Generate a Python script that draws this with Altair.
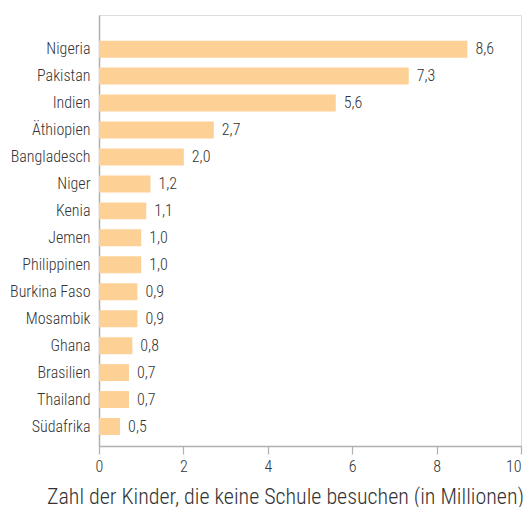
import altair as alt
import pandas as pd

countries = ["Nigeria", "Pakistan", "Indien", "Äthiopien", "Bangladesch", "Niger", "Kenia",
             "Jemen", "Philippinen", "Burkina Faso", "Mosambik", "Ghana", "Brasilien",
             "Thailand", "Südafrika"]
values = [8.73, 7.34, 5.61, 2.72, 2.01, 1.22, 1.12, 1.0, 1.0, 0.91, 0.91, 0.79, 0.71, 0.71, 0.5]
labels = ["8,6", "7,3", "5,6", "2,7", "2,0", "1,2", "1,1", "1,0", "1,0", "0,9", "0,9", "0,8",
          "0,7", "0,7", "0,5"]
ticks = [0, 2, 4, 6, 8, 10]

df = pd.DataFrame({"land": countries, "wert": values, "label": labels})

FONT = "Roboto Condensed, Liberation Sans Narrow, DejaVu Sans Condensed, Roboto, sans-serif"
TXT = "#333333"
W = 300

y = alt.Y("land:N", sort=countries, title=None,
          scale=alt.Scale(paddingInner=0.37, paddingOuter=0.68, align=0.7),
          axis=alt.Axis(ticks=False, labelPadding=9, labelFontSize=16, labelFont=FONT,
                        labelFontWeight=W,
                        labelColor=TXT, domainColor="#b0b0b0", domainWidth=1.5))
x = alt.X("wert:Q", title="Zahl der Kinder, die keine Schule besuchen (in Millionen)",
          scale=alt.Scale(domain=[0, 10], nice=False),
          axis=alt.Axis(values=ticks, grid=False, labelFlush=False,
                        labelAlign=alt.ExprRef(expr="datum.value == 10 ? 'right' : 'center'"),
                        labelFontSize=16, labelFont=FONT, labelFontWeight=W,
                        labelColor=TXT, tickColor="#b0b0b0", tickSize=8, tickWidth=1.2,
                        domainColor="#b0b0b0", domainWidth=1.5, labelPadding=4,
                        titleFont=FONT, titleFontSize=22, titleFontWeight=W,
                        titleColor=TXT, titleX=186, titleY=57, titleAlign="center",
                        titleBaseline="alphabetic"))

bars = alt.Chart(df).mark_bar(color="#fdd096").encode(x=x, y=y)
text = alt.Chart(df).mark_text(align="left", dx=8, font=FONT, fontSize=16, fontWeight=W,
                               color=TXT).encode(
    x=alt.X("wert:Q"), y=alt.Y("land:N", sort=countries), text="label:N")

chart = (bars + text).properties(
    width=422, height=431,
    autosize=alt.AutoSizeParams(type="none"),
    padding={"left": 91, "top": 7, "right": 3, "bottom": 61},
).configure_view(stroke=None).configure(background="white")

chart.save("out.html", embed_options={"renderer": "svg", "actions": False})
